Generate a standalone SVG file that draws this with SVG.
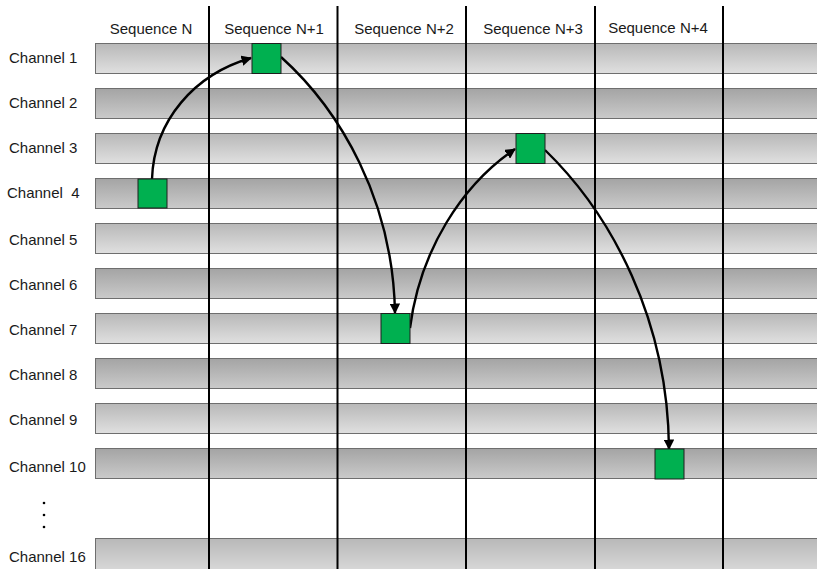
<svg xmlns="http://www.w3.org/2000/svg" width="817" height="569" viewBox="0 0 817 569">
  <defs>
    <linearGradient id="barLight" x1="0" y1="0" x2="0" y2="1">
      <stop offset="0" stop-color="#b8b8b8"/>
      <stop offset="1" stop-color="#e0e0e0"/>
    </linearGradient>
    <linearGradient id="barDark" x1="0" y1="0" x2="0" y2="1">
      <stop offset="0" stop-color="#a4a4a4"/>
      <stop offset="1" stop-color="#cacaca"/>
    </linearGradient>
    <marker id="arrow" viewBox="0 0 10 10" refX="9" refY="5" markerWidth="4.4" markerHeight="4.4" markerUnits="strokeWidth" orient="auto">
      <path d="M0,0 L10,5 L0,10 z" fill="#000"/>
    </marker>
  </defs>
  <style>
    text { font-family: "Liberation Sans", Arial, sans-serif; font-size: 15px; fill: #1a1a1a; }
    .head { text-anchor: middle; }
    .bar { stroke: #6e6e6e; stroke-width: 1; }
    .light { fill: url(#barLight); }
    .dark { fill: url(#barDark); }
    .col { stroke: #000; stroke-width: 2; }
    .slot { fill: #00b050; stroke: #1e1e1e; stroke-width: 1; }
    .link { fill: none; stroke: #000; stroke-width: 2.4; marker-end: url(#arrow); }
  </style>
  <rect width="817" height="569" fill="#fff"/>

  <!-- channel bars -->
  <g id="channels">
    <rect class="bar light" x="95.5" y="43.5" width="730" height="30"/>
    <rect class="bar dark" x="95.5" y="88.5" width="730" height="30"/>
    <rect class="bar light" x="95.5" y="133.5" width="730" height="30"/>
    <rect class="bar dark" x="95.5" y="178.5" width="730" height="30"/>
    <rect class="bar light" x="95.5" y="223.5" width="730" height="30"/>
    <rect class="bar dark" x="95.5" y="268.5" width="730" height="30"/>
    <rect class="bar light" x="95.5" y="313.5" width="730" height="30"/>
    <rect class="bar dark" x="95.5" y="358.5" width="730" height="30"/>
    <rect class="bar light" x="95.5" y="403.5" width="730" height="30"/>
    <rect class="bar dark" x="95.5" y="448.5" width="730" height="30"/>
    <rect class="bar light" x="95.5" y="538.5" width="730" height="40"/>
  </g>

  <!-- channel labels -->
  <g id="channel-labels">
    <text x="9" y="63">Channel 1</text>
    <text x="9" y="108">Channel 2</text>
    <text x="9" y="153">Channel 3</text>
    <text x="7" y="198" xml:space="preserve">Channel  4</text>
    <text x="9" y="245">Channel 5</text>
    <text x="9" y="290">Channel 6</text>
    <text x="9" y="335">Channel 7</text>
    <text x="9" y="380">Channel 8</text>
    <text x="9" y="425">Channel 9</text>
    <text x="9" y="472">Channel 10</text>
    <text x="9" y="562">Channel 16</text>
  </g>

  <!-- ellipsis between channel 10 and 16 -->
  <g id="ellipsis" fill="#000">
    <circle cx="44" cy="503" r="1.3"/>
    <circle cx="44" cy="515" r="1.3"/>
    <circle cx="44" cy="527" r="1.3"/>
  </g>

  <!-- sequence column separators -->
  <g id="columns">
    <line class="col" x1="209" y1="6" x2="209" y2="569"/>
    <line class="col" x1="337.5" y1="6" x2="337.5" y2="569"/>
    <line class="col" x1="466" y1="6" x2="466" y2="569"/>
    <line class="col" x1="595" y1="6" x2="595" y2="569"/>
    <line class="col" x1="723" y1="6" x2="723" y2="569"/>
  </g>

  <!-- sequence headers -->
  <g id="sequence-labels">
    <text class="head" x="151" y="34">Sequence N</text>
    <text class="head" x="274" y="34">Sequence N+1</text>
    <text class="head" x="404" y="34">Sequence N+2</text>
    <text class="head" x="533" y="34">Sequence N+3</text>
    <text class="head" x="658" y="33">Sequence N+4</text>
  </g>

  <!-- hop connectors -->
  <g id="connectors">
    <path class="link" d="M152,179 C154,120 195,74 251,58"/>
    <path class="link" d="M281,57 C340,110 393,200 395,313"/>
    <path class="link" d="M410,328 C420,250 462,185 515,149"/>
    <path class="link" d="M545,150 C612,215 668,320 669,449"/>
  </g>

  <!-- occupied slots -->
  <g id="slot-n">
    <rect class="slot" x="138" y="179" width="29" height="29"/>
  </g>
  <g id="slot-n1">
    <rect class="slot" x="252" y="43.5" width="29" height="30"/>
  </g>
  <g id="slot-n2">
    <rect class="slot" x="381" y="313.5" width="29" height="30"/>
  </g>
  <g id="slot-n3">
    <rect class="slot" x="516" y="133.5" width="29" height="30"/>
  </g>
  <g id="slot-n4">
    <rect class="slot" x="655" y="449" width="29" height="30"/>
  </g>
</svg>
